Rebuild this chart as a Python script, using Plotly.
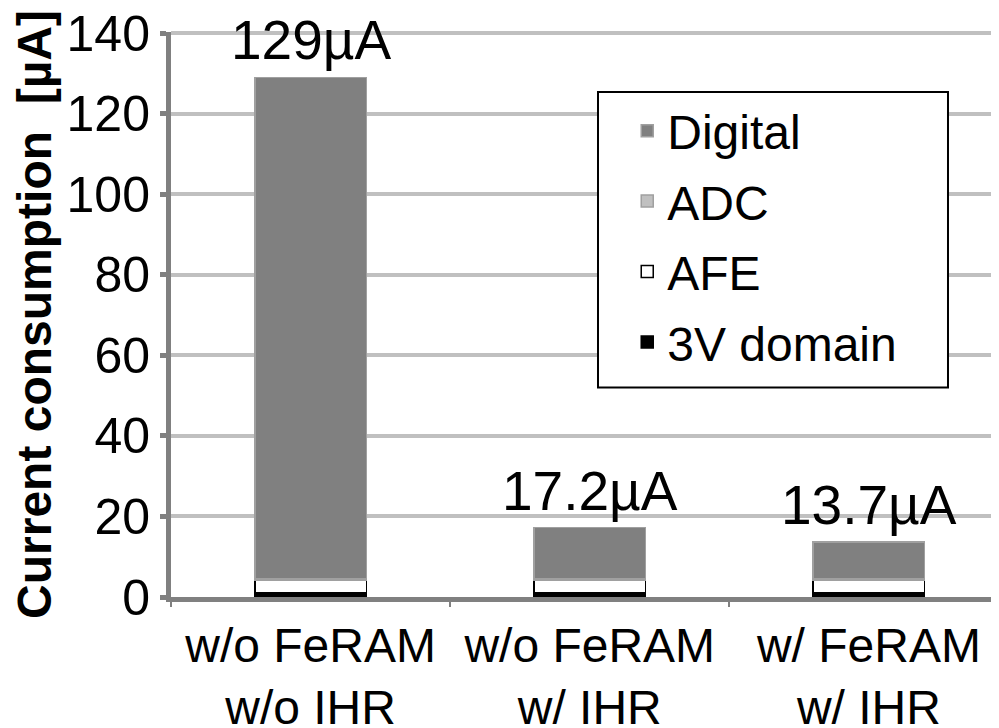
import plotly.graph_objects as go

categories = ["w/o FeRAM<br>w/o IHR", "w/o FeRAM<br>w/ IHR", "w/ FeRAM<br>w/ IHR"]
totals = [129, 17.2, 13.7]
total_labels = ["129µA", "17.2µA", "13.7µA"]
v3_domain = [1.0, 1.0, 1.0]
afe = [3.2, 3.2, 3.2]
adc = [0.3, 0.3, 0.3]
digital = [124.5, 12.7, 9.2]
y_ticks = [0, 20, 40, 60, 80, 100, 120, 140]

FONT = "Liberation Sans, Arial, sans-serif"

fig = go.Figure()
series = [
    ("3V domain", v3_domain, "#000000", "#000000", 4),
    ("AFE", afe, "#ffffff", "#000000", 3),
    ("ADC", adc, "#c0c0c0", "#a0a0a0", 2),
    ("Digital", digital, "#808080", "#a0a0a0", 1),
]
for name, vals, col, lcol, rank in series:
    fig.add_trace(go.Bar(
        x=categories, y=vals, name=name, legendgroup=name, legendrank=rank,
        marker=dict(color=col, line=dict(color=lcol, width=1.5)),
        width=0.4,
    ))

# total labels above each bar
for cat, tot, lab in zip(categories, totals, total_labels):
    fig.add_annotation(x=cat, y=tot, text=lab, showarrow=False,
                       xanchor="center", yanchor="bottom", yshift=4,
                       font=dict(size=55, color="black", family=FONT))

# legend frame
fig.add_shape(type="rect", xref="paper", yref="paper",
              x0=0.5157, x1=0.9384, y0=0.3706, y1=0.8936,
              line=dict(color="black", width=2), fillcolor="white",
              layer="above")

fig.update_layout(
    barmode="stack",
    width=991, height=720,
    margin=dict(l=163, r=0, t=24, b=131, autoexpand=False),
    paper_bgcolor="white", plot_bgcolor="white",
    font=dict(family=FONT, color="black"),
    showlegend=True,
    legend=dict(
        traceorder="grouped", tracegroupgap=5,
        x=0.551, y=0.892, xanchor="left", yanchor="top",
        bgcolor="rgba(0,0,0,0)", borderwidth=0,
        font=dict(size=48, family=FONT, color="black"),
    ),
    xaxis=dict(
        range=[-0.5, 2.466], automargin=False,
        showline=True, linecolor="#808080", linewidth=5,
        tickson="boundaries", ticks="outside", ticklen=5, tickwidth=1.5,
        tickcolor="#808080", showgrid=False,
        tickfont=dict(size=48, family=FONT, color="black"),
        ticklabelstandoff=2, ticklabeloverflow="allow",
    ),
    yaxis=dict(
        range=[0, 140.25], tickvals=y_ticks, automargin=False,
        showline=True, linecolor="#808080", linewidth=5,
        ticks="outside", ticklen=6, tickwidth=5, tickcolor="#808080",
        showgrid=True, gridcolor="#c0c0c0", gridwidth=4,
        zeroline=False, ticklabeloverflow="allow",
        tickfont=dict(size=50, family=FONT, color="black"),
        title=dict(text="<b>Current consumption  [µA]</b>",
                   font=dict(size=48, family=FONT, color="black"),
                   standoff=4),
    ),
)

fig.write_html("out.html")
